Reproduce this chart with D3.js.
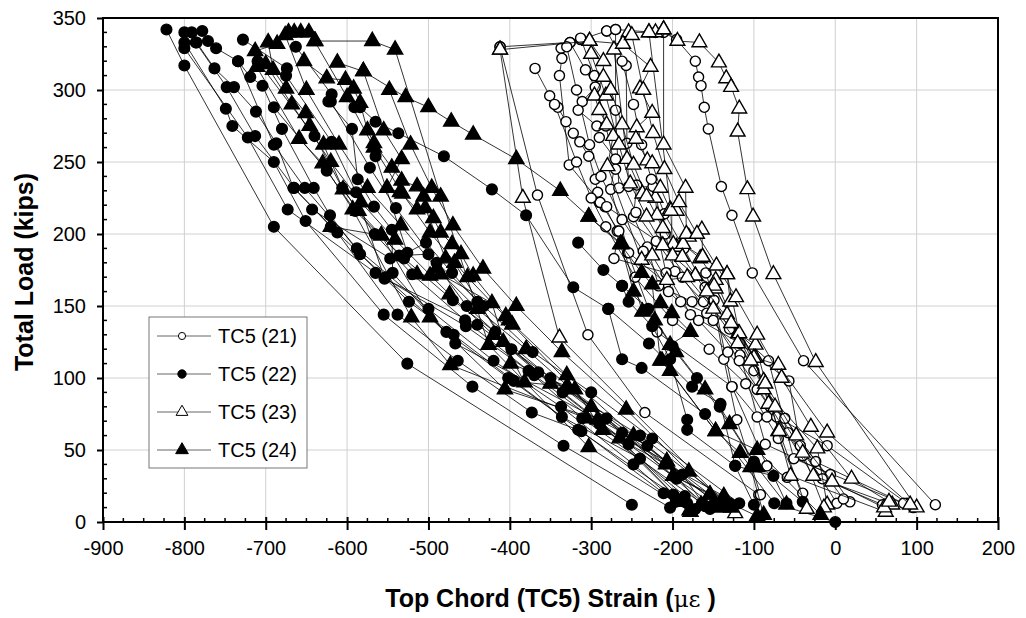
<!DOCTYPE html>
<html>
<head>
<meta charset="utf-8">
<script src="https://cdn.jsdelivr.net/npm/d3@7"></script>
<style>
  body { margin: 0; background: #fff; }
  svg { display: block; font-family: "Liberation Sans", Arial, sans-serif; }
</style>
</head>
<body>
<svg id="chart" width="1026" height="618"></svg>
<script>
// Top chord TC5 strain vs total load, four gauges, each run drawn as a polyline

const xTicks = [-900, -800, -700, -600, -500, -400, -300, -200, -100, 0, 100, 200];
const yTicks = [0, 50, 100, 150, 200, 250, 300, 350];
const seriesNames = ['TC5 (21)', 'TC5 (22)', 'TC5 (23)', 'TC5 (24)'];

// TC5 (21) open circles, [strain, load]
const tc21 = [
  [[-412,330],[-326,333],[-313,335],[-281,341],[-270,342],[-221,340],[-211,340],[-195,335],[-172,320],[-168,309],[-165,303],[-161,288],[-156,273],[-140,233],[-127,213],[-102,173],[-39,112],[123,12]],
  [[-412,330],[-366,227],[-304,130],[-234,76],[-94,19]],
  [[-369,315],[-351,296],[-341,288],[-331,278],[-322,270],[-314,264],[-303,254],[-295,238],[-290,222],[-283,219],[-268,202],[-255,187],[-219,132],[-127,94],[-84,39],[-59,31]],
  [[-337,329],[-336,322],[-339,310],[-327,248],[-289,222],[-266,202],[-272,183],[-207,173],[-178,144],[-117,124],[-57,98],[-43,53],[2,13]],
  [[-326,333],[-307,314],[-295,302],[-311,292],[-316,286],[-293,275],[-290,267],[-270,252],[-276,231],[-254,187],[-208,166],[-190,153],[-158,145],[-117,116],[-86,54],[-6,33],[18,14]],
  [[-281,341],[-257,317],[-256,263],[-254,233],[-244,234],[-248,212],[-231,191],[-217,164],[-176,153],[-150,154],[-137,113],[-121,71],[-92,19]],
  [[-270,342],[-270,286],[-266,232],[-224,233],[-209,200],[-197,174],[-162,153],[-82,112],[-51,44],[96,10]],
  [[-292,229],[-281,219],[-216,194],[-208,173],[-159,173],[-149,154],[-127,94],[-96,73],[-84,73],[-72,73],[-10,53],[88,13]],
  [[-330,330],[-318,300],[-302,262],[-288,240],[-262,210],[-236,188],[-205,160],[-168,140],[-132,118],[-96,92],[-58,62],[-16,30],[58,12]],
  [[-313,336],[-296,310],[-282,275],[-270,245],[-245,215],[-220,195],[-188,170],[-150,140],[-118,112],[-80,80],[-40,46],[84,13]],
  [[-262,320],[-248,290],[-238,262],[-226,238],[-210,214],[-186,190],[-160,163],[-130,134],[-100,105],[-62,72],[-24,42],[10,16]],
  [[-345,290],[-318,250],[-300,225],[-282,205],[-246,170],[-200,140],[-155,120],[-110,96],[-70,58],[-40,20]]
];

// TC5 (22) filled circles
const tc22 = [
  [[-822,342],[-800,317],[-690,205],[-526,110],[-250,12]],
  [[-800,340],[-800,333],[-749,287],[-741,275],[-690,250],[-651,209],[-555,144],[-446,94],[-334,53],[-203,10]],
  [[-791,340],[-785,333],[-763,315],[-739,302],[-712,285],[-687,263],[-666,232],[-612,201],[-538,144],[-464,112],[-373,76],[-316,64],[-199,19]],
  [[-778,341],[-771,334],[-761,329],[-734,320],[-719,309],[-704,303],[-680,273],[-641,232],[-621,213],[-584,186],[-524,153],[-469,130],[-395,98],[-336,73],[-240,44],[-182,13]],
  [[-800,329],[-722,267],[-673,217],[-565,173],[-454,136],[-377,105],[-311,72],[-164,13]],
  [[-728,335],[-674,315],[-675,310],[-619,264],[-589,229],[-554,169],[-440,137],[-281,72],[-154,9]],
  [[-663,330],[-619,297],[-623,292],[-594,273],[-587,238],[-567,219],[-545,203],[-544,173],[-467,124],[-231,53],[-188,33],[-160,11]],
  [[-591,288],[-584,288],[-565,278],[-537,270],[-481,254],[-422,231],[-380,213],[-322,163],[-279,148],[-229,124],[-176,94],[-141,82],[-123,39],[-100,12]],
  [[-565,254],[-526,187],[-503,194],[-471,173],[-440,153],[-398,120],[-335,90],[-254,54],[-195,30],[-150,12]],
  [[-316,194],[-285,175],[-262,164],[-254,153],[-225,136],[-203,113],[-182,71],[-182,64],[-123,39],[-76,32],[-60,13]],
  [[-279,148],[-262,113],[-238,107],[-160,75],[-75,13],[0,0]],
  [[-643,217],[-547,183],[-536,185],[-500,186],[-453,150],[-365,104],[-240,60],[-130,13]],
  [[-734,320],[-690,262],[-652,232],[-588,190],[-500,148],[-420,112],[-337,80],[-248,40],[-196,14]],
  [[-786,333],[-748,302],[-713,268],[-665,232],[-620,205],[-553,170],[-478,132],[-402,100],[-312,63],[-211,20],[-172,9]],
  [[-710,320],[-640,268],[-606,232],[-566,200],[-520,172],[-455,140],[-370,102],[-290,68],[-185,18]],
  [[-690,288],[-625,244],[-590,216],[-530,183],[-470,154],[-418,132],[-350,100],[-262,62],[-143,12]],
  [[-620,292],[-572,246],[-540,218],[-490,180],[-432,150],[-372,118],[-300,90],[-225,58],[-118,13]],
  [[-262,164],[-230,148],[-200,122],[-170,100],[-142,80],[-100,42],[-40,14]]
];

// TC5 (23) open triangles
const tc23 = [
  [[-412,328],[-302,334],[-261,332],[-254,340],[-229,340],[-221,340],[-211,342],[-194,334],[-167,333],[-143,319],[-134,308],[-128,302],[-118,287],[-120,271],[-108,231],[-101,212],[-76,172],[-24,111],[100,10]],
  [[-412,328],[-384,225],[-339,128],[-123,6]],
  [[-302,334],[-285,320],[-285,309],[-296,296],[-290,286],[-281,276],[-273,268],[-280,247],[-238,182],[-225,185],[-207,168],[-172,171],[-147,162],[-119,131],[-98,123],[-70,63],[-55,32],[62,7]],
  [[-272,328],[-256,252],[-237,228],[-221,225],[-219,213],[-195,191],[-188,193],[-163,184],[-133,172],[-129,153],[-133,144],[-100,114],[-82,82],[-27,32],[70,12]],
  [[-261,332],[-227,316],[-240,301],[-225,284],[-244,274],[-245,266],[-231,251],[-225,249],[-215,232],[-203,217],[-195,216],[-180,198],[-199,193],[-187,193],[-166,183],[-147,168],[-119,131],[-88,98],[-88,92],[-22,51],[-10,12]],
  [[-211,342],[-211,262],[-184,232],[-183,200],[-164,203],[-163,184],[-133,172],[-118,131],[-98,114],[-70,109],[-10,62],[92,12]],
  [[-229,340],[-202,216],[-200,185],[-172,171],[-149,164],[-100,114],[-69,63],[-35,9]],
  [[-300,325],[-282,296],[-266,262],[-252,235],[-232,212],[-212,192],[-182,170],[-150,148],[-120,124],[-86,96],[-48,60],[-4,28],[60,10]],
  [[-250,338],[-236,300],[-224,270],[-210,245],[-192,222],[-170,200],[-146,178],[-122,156],[-96,130],[-66,100],[-30,66],[20,30],[66,14]],
  [[-276,300],[-262,276],[-248,248],[-232,226],[-212,204],[-188,184],[-158,160],[-128,138],[-104,112],[-74,80],[-40,48],[-14,10]]
];

// TC5 (24) filled triangles
const tc24 = [
  [[-672,340],[-665,340],[-657,340],[-647,340],[-639,334],[-569,334],[-541,328],[-485,226],[-426,123],[-303,52],[-178,7]],
  [[-686,332],[-713,327],[-711,316],[-659,266],[-630,249],[-593,217],[-521,142],[-473,109],[-306,72],[-207,42],[-199,32],[-154,19]],
  [[-697,333],[-691,314],[-675,301],[-651,284],[-646,275],[-629,262],[-605,231],[-586,216],[-558,199],[-498,142],[-406,92],[-292,71],[-179,8]],
  [[-653,320],[-625,308],[-602,307],[-592,301],[-584,291],[-575,272],[-567,263],[-545,246],[-533,237],[-514,233],[-506,226],[-494,211],[-485,201],[-471,193],[-460,186],[-445,171],[-405,143],[-397,137],[-320,92],[-286,64],[-137,18]],
  [[-612,319],[-580,313],[-555,272],[-533,252],[-551,232],[-535,229],[-514,217],[-504,218],[-479,183],[-468,180],[-408,125],[-382,97],[-330,94],[-199,32],[-96,4]],
  [[-620,205],[-558,199],[-514,172],[-498,171],[-485,172],[-422,152],[-399,110],[-329,94],[-207,42],[-154,19]],
  [[-580,313],[-528,295],[-500,288],[-472,278],[-445,269],[-392,252],[-338,230],[-303,212],[-264,193],[-238,173],[-225,165],[-215,112],[-203,105],[-147,63],[-117,48],[-104,38],[-88,5]],
  [[-303,212],[-262,193],[-237,146],[-215,152],[-201,145],[-178,132],[-203,123],[-213,112],[-147,63],[-96,50],[-18,5]],
  [[-676,338],[-650,300],[-610,262],[-575,232],[-534,206],[-490,176],[-440,148],[-380,120],[-300,80],[-208,40],[-165,12]],
  [[-700,318],[-668,290],[-620,250],[-583,222],[-541,196],[-474,158],[-420,130],[-350,96],[-265,58],[-190,14]],
  [[-640,334],[-600,295],[-567,260],[-532,228],[-498,201],[-452,170],[-401,140],[-330,102],[-248,60],[-140,10]],
  [[-548,300],[-522,262],[-496,232],[-470,206],[-433,176],[-392,150],[-336,118],[-257,78],[-180,35],[-128,10]],
  [[-264,193],[-248,160],[-222,140],[-196,118],[-160,92],[-130,68],[-96,38],[-60,12]]
];

const series = [
  { name: seriesNames[0], runs: tc21, shape: d3.symbolCircle, size: 80, fill: '#fff', legendSize: 40 },
  { name: seriesNames[1], runs: tc22, shape: d3.symbolCircle, size: 90, fill: '#000', legendSize: 55 },
  { name: seriesNames[2], runs: tc23, shape: d3.symbolTriangle, size: 95, fill: '#fff', legendSize: 60 },
  { name: seriesNames[3], runs: tc24, shape: d3.symbolTriangle, size: 100, fill: '#000', legendSize: 70 }
];

const svg = d3.select('#chart');
const L = 103, R = 998, T = 18, B = 522;

const x = d3.scaleLinear().domain([-900, 200]).range([L, R]);
const y = d3.scaleLinear().domain([0, 350]).range([B, T]);

// grid
const grid = svg.append('g').attr('stroke', '#d0d0d0').attr('stroke-width', 1);
grid.selectAll('.gx').data(xTicks.slice(1, -1)).join('line')
  .attr('x1', d => x(d)).attr('x2', d => x(d)).attr('y1', T).attr('y2', B);
grid.selectAll('.gy').data(yTicks.slice(1, -1)).join('line')
  .attr('y1', d => y(d)).attr('y2', d => y(d)).attr('x1', L).attr('x2', R);

// data
const line = d3.line().x(d => x(d[0])).y(d => y(d[1]));
const plot = svg.append('g');
series.forEach(s => {
  const g = plot.append('g');
  g.selectAll('path.run').data(s.runs).join('path')
    .attr('class', 'run')
    .attr('d', line)
    .attr('fill', 'none')
    .attr('stroke', '#000')
    .attr('stroke-width', 0.8);
  g.selectAll('path.pt').data(s.runs.flat()).join('path')
    .attr('class', 'pt')
    .attr('transform', d => `translate(${x(d[0])},${y(d[1])})`)
    .attr('d', d3.symbol(s.shape, s.size))
    .attr('fill', s.fill)
    .attr('stroke', '#000')
    .attr('stroke-width', 1.4);
});

// frame
svg.append('rect')
  .attr('x', L).attr('y', T).attr('width', R - L).attr('height', B - T)
  .attr('fill', 'none').attr('stroke', '#000').attr('stroke-width', 2);

// axes
const xAxis = d3.axisBottom(x).tickValues(xTicks).tickFormat(d => String(d)).tickSize(8).tickPadding(11);
const gx = svg.append('g').attr('transform', `translate(0,${B})`).call(xAxis);
gx.select('.domain').remove();
gx.selectAll('.tick line').attr('y1', -5).attr('stroke-width', 2);
gx.selectAll('.tick text').attr('font-size', 20).attr('fill', '#000');
gx.selectAll('.mx').data(d3.range(-900, 201, 25).filter(v => v % 100 !== 0)).join('line')
  .attr('x1', d => x(d)).attr('x2', d => x(d)).attr('y1', 0).attr('y2', -4)
  .attr('stroke', '#000').attr('stroke-width', 1.5);

const yAxis = d3.axisLeft(y).tickValues(yTicks).tickFormat(d => String(d)).tickSize(6).tickPadding(11);
const gy = svg.append('g').attr('transform', `translate(${L},0)`).call(yAxis);
gy.select('.domain').remove();
gy.selectAll('.tick line').attr('stroke-width', 2);
gy.selectAll('.tick text').attr('font-size', 20).attr('fill', '#000');
gy.selectAll('.my').data(d3.range(0, 351, 10).filter(v => v % 50 !== 0)).join('line')
  .attr('y1', d => y(d)).attr('y2', d => y(d)).attr('x1', 0).attr('x2', 4)
  .attr('stroke', '#000').attr('stroke-width', 1.5);

// titles
svg.append('text')
  .attr('transform', `translate(33,${(T + B) / 2 + 2}) rotate(-90)`)
  .attr('text-anchor', 'middle')
  .attr('font-size', 25).attr('font-weight', 'bold')
  .text('Total Load (kips)');

const xt = svg.append('text')
  .attr('x', (L + R) / 2).attr('y', 607)
  .attr('text-anchor', 'middle')
  .attr('font-size', 25).attr('font-weight', 'bold');
xt.append('tspan').text('Top Chord (TC5) Strain (');
xt.append('tspan').attr('font-family', '"DejaVu Serif", serif').attr('font-weight', 'normal').attr('font-size', 23).text('με');
xt.append('tspan').text(' )');

// legend
const lg = svg.append('g').attr('transform', 'translate(149,317)');
lg.append('rect').attr('width', 158).attr('height', 151)
  .attr('fill', '#fff').attr('stroke', '#777').attr('stroke-width', 1);
series.forEach((s, i) => {
  const cy = 19 + i * 38;
  lg.append('line').attr('x1', 8).attr('x2', 62).attr('y1', cy).attr('y2', cy)
    .attr('stroke', '#666').attr('stroke-width', 1);
  lg.append('path').attr('transform', `translate(33,${cy})`)
    .attr('d', d3.symbol(s.shape, s.legendSize))
    .attr('fill', s.fill).attr('stroke', '#000').attr('stroke-width', 1);
  lg.append('text').attr('x', 69).attr('y', cy + 7)
    .attr('font-size', 20).text(s.name);
});
</script>
</body>
</html>
